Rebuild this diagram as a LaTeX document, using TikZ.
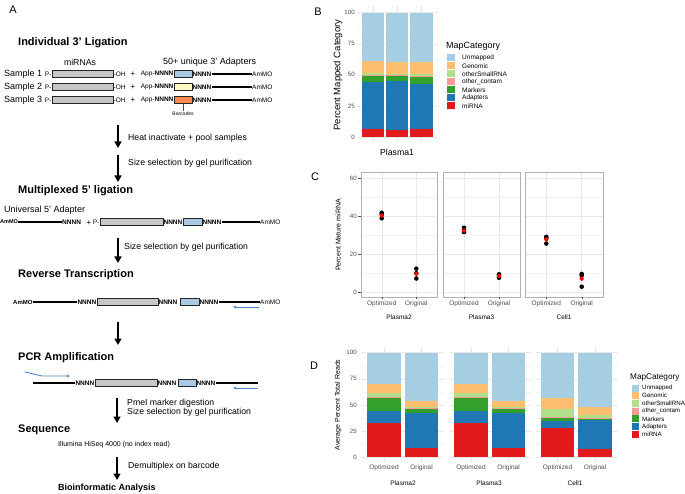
\documentclass[tikz,border=0pt]{standalone}
\usepackage{fontspec}
\setmainfont{Liberation Sans}
\usetikzlibrary{arrows.meta,positioning}
\definecolor{cat1}{HTML}{E31A1C}
\definecolor{cat2}{HTML}{1F78B4}
\definecolor{cat3}{HTML}{33A02C}
\definecolor{cat4}{HTML}{FB9A99}
\definecolor{cat5}{HTML}{B2DF8A}
\definecolor{cat6}{HTML}{FDBF6F}
\definecolor{cat7}{HTML}{A6CEE3}
\definecolor{bcblue}{HTML}{A9C9E2}
\definecolor{bcyellow}{HTML}{FFF6C4}
\definecolor{bcorange}{HTML}{F5894F}
\definecolor{primerblue}{HTML}{4F88C6}
\definecolor{axisgray}{HTML}{4D4D4D}
\tikzset{
  fs/.style={font=\fontsize{#1}{#1}\selectfont},
  fsb/.style={font=\bfseries\fontsize{#1}{#1}\selectfont},
  heading/.style={fsb=11,anchor=west,inner sep=0pt},
  steptxt/.style={fs=8.7,anchor=west,inner sep=0pt},
  seqtxt/.style={fs=6.5,inner sep=0pt},
  seqbold/.style={fsb=6.5,inner sep=0pt},
  mirbox/.style={draw=black!85,fill=gray!45,line width=0.8pt,inner sep=0pt,minimum height=6.5pt},
  bcbox/.style={draw=black!85,line width=0.8pt,inner sep=0pt,minimum height=6.5pt,minimum width=18pt},
  linker/.style={line width=1.4pt},
  flow/.style={-{Triangle[length=6.5pt,width=7pt]},line width=1.4pt},
  primer/.style={primerblue,line width=0.9pt,-{Stealth[length=3.5pt,width=3.2pt]}},
  ticklbl/.style={fs=6.2,text=axisgray,inner sep=0pt},
  gridmaj/.style={draw=black!9,line width=0.5pt},
  gridmin/.style={draw=black!5,line width=0.3pt},
}
\begin{document}
\begin{tikzpicture}[x=1pt,y=-1pt]
\useasboundingbox (0,0) rectangle (685,494);
% panel letters
\node[fs=11] (lblA) at (13,10) {A};
\node[fs=11] (lblB) at (318,12) {B};
\node[fs=11] (lblC) at (315,177) {C};
\node[fs=11] (lblD) at (314,366) {D};
%
% ---- A: workflow ----
\node[heading] (h1) at (18,43) {Individual 3' Ligation};
\node[fs=8.7] (mirs) at (80,62) {miRNAs};
\node[fs=9,anchor=west,inner sep=0pt] (adps) at (163,62) {50+ unique 3' Adapters};
\foreach \i/\ry/\bc in {1/74/bcblue,2/87/bcyellow,3/100/bcorange}{
  \node[fs=9,anchor=west,inner sep=0pt] (smp\i) at (4,\ry) {Sample \i};
  \node[mirbox,minimum width=61pt] (mir\i) at (82.5,\ry) {};
  \node[seqtxt,anchor=east] (ph\i) at (mir\i.west) {P-};
  \node[seqtxt,anchor=west] (oh\i) at (mir\i.east) {-OH};
  \node[fs=8] (plus\i) at (133,\ry) {+};
  \node[bcbox,fill=\bc] (bc\i) at (183,\ry) {};
  \node[seqtxt,anchor=east] (app\i) at (bc\i.west) {App-\bfseries NNNN};
  \node[seqbold,anchor=west] (nb\i) at (bc\i.east) {NNNN};
  \node[seqtxt,anchor=west] (am\i) at (252,\ry) {AmMO};
  \draw[linker] (nb\i.east) -- (am\i.west);
}
\node[fs=5,inner sep=0pt] (bclbl) at (183,113.5) {Barcodes};
\draw[line width=0.4pt,black!70] (bc3.south) -- (bclbl.north);
%
\foreach \n/\x/\ya/\yb in {1/118/125/148,2/118/155/182,3/118/238/263,4/118/322/345,5/117/398/423,6/117/457/480}{
  \coordinate (f\n s) at (\x,\ya);
  \coordinate (f\n e) at (\x,\yb);
  \draw[flow] (f\n s) -- (f\n e);
}
\node[steptxt] (t1) at (128,138) {Heat inactivate + pool samples};
\node[steptxt] (t2) at (128,163) {Size selection by gel purification};
%
\node[heading] (h2) at (18,191) {Multiplexed 5' ligation};
\node[fs=9,anchor=west,inner sep=0pt] (univ) at (4,210) {Universal 5' Adapter};
\node[fsb=5.5,inner sep=0pt,anchor=west] (am5a) at (0,222) {AmMO};
\node[seqbold,anchor=west] (n5a) at (62,222) {NNNN};
\draw[linker] (am5a.east) -- (n5a.west);
\node[fs=8] (plus5) at (89,223) {+};
\node[mirbox,minimum width=63pt] (mir5) at (131.5,222) {};
\node[seqtxt,anchor=east] (ph5) at (mir5.west) {P-};
\node[seqbold,anchor=west] (n5b) at (mir5.east) {NNNN};
\node[bcbox,fill=bcblue,minimum width=19pt] (bc5) at (192.5,222) {};
\node[seqbold,anchor=west] (n5c) at (bc5.east) {NNNN};
\node[seqtxt,anchor=west] (am5b) at (260,222) {AmMO};
\draw[linker] (n5c.east) -- (am5b.west);
%
\node[steptxt] (t3) at (124,247) {Size selection by gel purification};
\node[heading] (h3) at (18,275) {Reverse Transcription};
\node[fsb=6,inner sep=0pt,anchor=west] (am6a) at (13,302) {AmMO};
\node[seqbold,anchor=east] (n6a) at (96.5,302) {NNNN};
\draw[linker] (am6a.east) -- (n6a.west);
\node[mirbox,minimum width=61pt] (mir6) at (127.5,302) {};
\node[seqbold,anchor=west] (n6b) at (mir6.east) {NNNN};
\node[bcbox,fill=bcblue,minimum width=19pt] (bc6) at (189.5,302) {};
\node[seqbold,anchor=west] (n6c) at (bc6.east) {NNNN};
\node[seqtxt,anchor=west] (am6b) at (260,302) {AmMO};
\draw[linker] (n6c.east) -- (am6b.west);
\coordinate (rt0) at (259,307);
\coordinate (rt1) at (233,307);
\draw[primer] (rt0) -- (rt1);
%
\node[heading] (h4) at (18,358) {PCR Amplification};
\coordinate (pc0) at (33,383);
\node[seqbold,anchor=east] (n7a) at (94.5,383) {NNNN};
\draw[linker] (pc0) -- (n7a.west);
\node[mirbox,minimum width=62pt] (mir7) at (126,383) {};
\node[seqbold,anchor=west] (n7b) at (mir7.east) {NNNN};
\node[bcbox,fill=bcblue] (bc7) at (187,383) {};
\node[seqbold,anchor=west] (n7c) at (bc7.east) {NNNN};
\coordinate (pc1) at (258,383);
\draw[linker] (n7c.east) -- (pc1);
\coordinate (fp0) at (25,372);
\coordinate (fp1) at (42,376);
\coordinate (fp2) at (70,376);
\draw[primer] (fp0) -- (fp1) -- (fp2);
\coordinate (rp0) at (258,388);
\coordinate (rp1) at (233,388);
\draw[primer] (rp0) -- (rp1);
%
\node[steptxt,align=left] (t4) at (127,407.5) {PmeI marker digestion\\Size selection by gel purification};
\node[heading] (h5) at (18,430) {Sequence};
\node[fs=7,anchor=west,inner sep=0pt] (seqr) at (58,445) {Illumina HiSeq 4000 (no index read)};
\node[steptxt] (t5) at (128,466) {Demultiplex on barcode};
\node[fsb=9,anchor=west,inner sep=0pt] (h6) at (58,488) {Bioinformatic Analysis};
%
% ---- B ----
\begin{scope}[shift={(0,137)},y=1.243pt]
  \foreach \v in {12.5,37.5,62.5,87.5} \draw[gridmin] (357,\v) -- (438,\v);
  \foreach \v in {0,25,50,75,100}{
    \draw[gridmaj] (357,\v) -- (438,\v);
    \node[ticklbl,anchor=east] (bt\v) at (355,\v) {\v};
  }
  \foreach \xc in {373,397,421.5} \draw[gridmaj] (\xc,-4) -- (\xc,105);
  \foreach \xa/\xb/\tops in {362/384/{6.4,44.5,50,50.2,51.7,61,100},386/408/{5.6,45,49.5,49.7,51,60.6,100},410/433/{6.5,42.6,49,49.2,51,60.6,100}}{
    \foreach \t [count=\k, remember=\t as \lo (initially 0)] in \tops
      \fill[fill=cat\k] (\xa,\lo) rectangle (\xb,\t);
  }
\end{scope}
\node[fs=9.5,rotate=90,inner sep=0pt] (byt) at (338,75) {Percent Mapped Category};
\node[fs=8.7,inner sep=0pt] (bxl) at (397,152) {Plasma1};
\node[fs=9,anchor=west,inner sep=0pt] (blegt) at (446,46.5) {MapCategory};
\foreach \lab/\k [count=\j from 0] in {Unmapped/7,Genomic/6,otherSmallRNA/5,other\_contam/4,Markers/3,Adapters/2,miRNA/1}{
  \fill[fill=cat\k] (447,54.2+8*\j) rectangle ++(7.5,7);
  \node[fs=6.5,anchor=west,inner sep=0pt] (bl\k) at (462,57.7+8*\j) {\lab};
}
%
% ---- C ----
\foreach \pa/\pb/\fn/\lab in {361/437/pl2/Plasma2,443/520/pl3/Plasma3,525/603/cel/Cell1}{
  \pgfmathsetmacro{\xo}{\pa+0.273*(\pb-\pa)}
  \pgfmathsetmacro{\xr}{\pa+0.727*(\pb-\pa)}
  \begin{scope}[shift={(0,292)},y=1.9pt]
    \foreach \v in {10,30,50} \draw[gridmin] (\pa,\v) -- (\pb,\v);
    \foreach \v in {0,20,40,60} \draw[gridmaj] (\pa,\v) -- (\pb,\v);
    \draw[gridmaj] (\xo,-2.6) -- (\xo,63.2) (\xr,-2.6) -- (\xr,63.2);
    \draw[gray!60,line width=0.6pt] (\pa,-2.6) rectangle (\pb,63.2);
    \draw[axisgray,line width=0.4pt] (\xo,-2.6) -- ++(0pt,-2.5pt) (\xr,-2.6) -- ++(0pt,-2.5pt);
  \end{scope}
  \node[ticklbl,fs=6.5] (opt\fn) at (\xo,304) {Optimized};
  \node[ticklbl,fs=6.5] (org\fn) at (\xr,304) {Original};
  \node[fs=6.5,inner sep=0pt] (strip\fn) at ({(\pa+\pb)/2},317) {\lab};
}
\begin{scope}[shift={(0,292)},y=1.9pt]
  \foreach \v in {0,20,40,60}{
    \draw[axisgray,line width=0.4pt] (358,\v) -- (361,\v);
    \node[ticklbl,anchor=east] (ct\v) at (357,\v) {\v};
  }
  \foreach \xc/\v in {381.7/41.7,381.7/38.8,381.7/41,416.3/12.3,416.3/7.1,416.3/9.9,464/33.8,464/31.5,464/33,499/9.3,499/7.5,499/8.6,546.3/29,546.3/28.4,546.3/25.5,581.7/9.5,581.7/8.7,581.7/2.8}
    \fill[black] (\xc,\v) circle (2.3pt);
  \foreach \xc/\v in {381.7/40.2,416.3/9.6,464/32.3,499/8.4,546.3/27.7,581.7/7}
    \fill[red] (\xc,\v) circle (2.1pt);
\end{scope}
\node[fs=7,rotate=90,inner sep=0pt] (cyt) at (338,235) {Percent Mature miRNA};
%
% ---- D ----
\begin{scope}[shift={(0,457.3)},y=1.046pt]
  \foreach \pa/\pb/\xo/\xr in {361/444/384/421.5,449/531/471/508.5,536/618/557.5/595}{
    \foreach \v in {12.5,37.5,62.5,87.5} \draw[gridmin] (\pa,\v) -- (\pb,\v);
    \foreach \v in {0,25,50,75,100} \draw[gridmaj] (\pa,\v) -- (\pb,\v);
    \draw[gridmaj] (\xo,-5) -- (\xo,105) (\xr,-5) -- (\xr,105);
  }
  \foreach \v in {0,25,50,75,100} \node[ticklbl,anchor=east] (dt\v) at (357,\v) {\v};
  \foreach \xa/\xb/\tops in {367/401/{32.5,44,57,57.2,61,69.8,100},405/438/{9.2,42.6,46.5,46.7,48,53.8,100},454/488/{32.5,44,57,57.2,61,69.8,100},492/525/{9.2,42.5,46.5,46.7,48,53.6,100},541/574/{28.3,34.7,38.5,38.7,46.2,56.4,100},578/612/{7.6,36,37,37.2,40.4,47.8,100}}{
    \foreach \t [count=\k, remember=\t as \lo (initially 0)] in \tops
      \fill[fill=cat\k] (\xa,\lo) rectangle (\xb,\t);
  }
\end{scope}
\node[fs=7,rotate=90,inner sep=0pt] (dyt) at (338,405) {Average Percent Total Reads};
\foreach \xc/\lab [count=\j] in {384/Optimized,421.5/Original,471/Optimized,508.5/Original,557.5/Optimized,595/Original}
  \node[ticklbl,fs=6.5] (dx\j) at (\xc,468) {\lab};
\foreach \xc/\lab [count=\j] in {403/Plasma2,489/Plasma3,575/Cell1}
  \node[fs=6.5,inner sep=0pt] (dg\j) at (\xc,483) {\lab};
\node[fs=8.2,anchor=west,inner sep=0pt] (dlegt) at (630,377) {MapCategory};
\foreach \lab/\k [count=\j from 0] in {Unmapped/7,Genomic/6,otherSmallRNA/5,other\_contam/4,Markers/3,Adapters/2,miRNA/1}{
  \fill[fill=cat\k] (632,384.5+7.7*\j) rectangle ++(7,7);
  \node[fs=6.2,anchor=west,inner sep=0pt] (dl\k) at (642,388+7.7*\j) {\lab};
}
\end{tikzpicture}
\end{document}
